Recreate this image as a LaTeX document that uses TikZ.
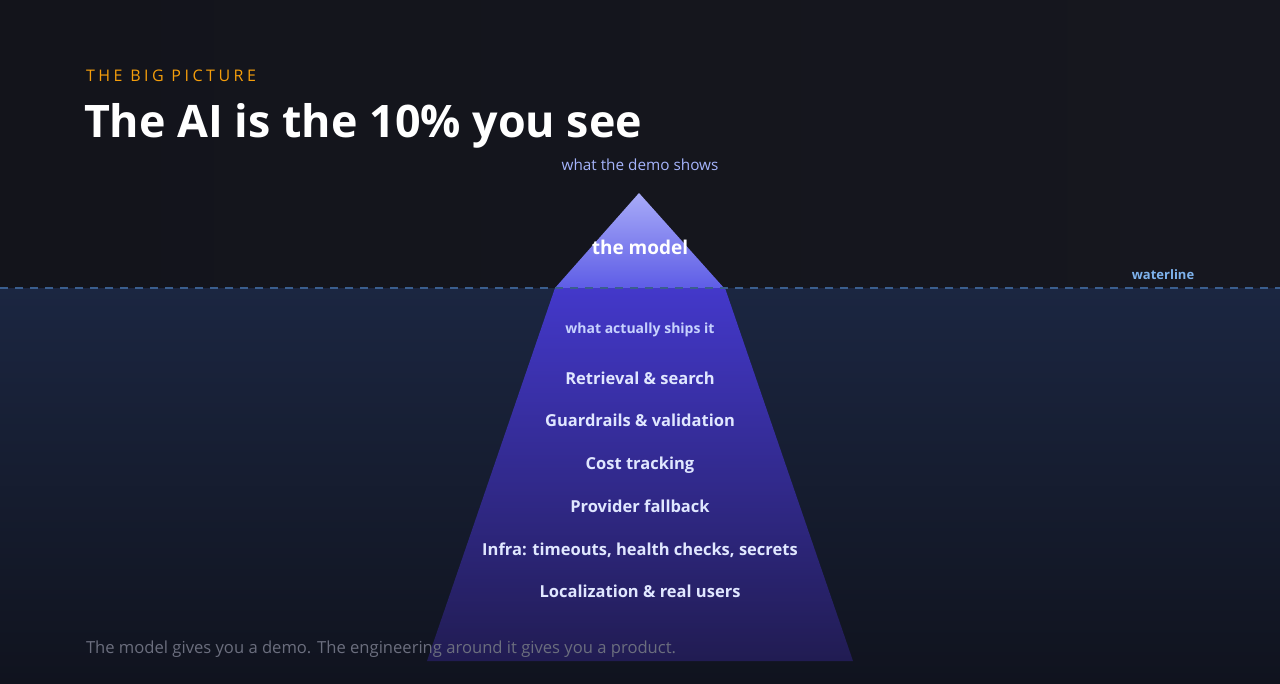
\documentclass[tikz,border=0pt]{standalone}
\usepackage{fontspec}
\setmainfont{Open Sans}
\newfontfamily\spaced[LetterSpace=22]{Open Sans}
\begin{document}
\begin{tikzpicture}[x=1pt,y=-1pt,
  lbl/.style={inner sep=0pt, outer sep=0pt},
  item/.style={lbl, anchor=base, text=itemc, font=\fontsize{16.5}{20}\selectfont\bfseries}]
\definecolor{bgtop}{HTML}{13141B}
\definecolor{bgtopr}{HTML}{16171F}
\definecolor{seatop}{HTML}{1B2641}
\definecolor{seabot}{HTML}{10131E}
\definecolor{wline}{HTML}{3A5E8E}
\definecolor{tipc}{HTML}{A8ABF8}
\definecolor{tipb}{HTML}{5E5DE6}
\definecolor{traptop}{HTML}{4338CA}
\definecolor{trapbot}{HTML}{211C52}
\definecolor{orangec}{HTML}{F59E0B}
\definecolor{democ}{HTML}{A5B4FC}
\definecolor{shipc}{HTML}{C7D2FE}
\definecolor{itemc}{HTML}{E0E7FF}
\definecolor{waterc}{HTML}{7EB2EC}
\definecolor{footc}{HTML}{6B6E7E}
\useasboundingbox (0,0) rectangle (1280,683);
% backgrounds
\shade[left color=bgtop, right color=bgtopr] (0,0) rectangle (1280,288);
\shade[top color=seatop, bottom color=seabot] (0,288) rectangle (1280,683);
% iceberg
\shade[top color=tipc, bottom color=tipb] (639,193) -- (724,288) -- (555,288) -- cycle;
\shade[top color=traptop, bottom color=trapbot] (555,288) -- (725,288) -- (853,661) -- (427,661) -- cycle;
% waterline
\coordinate (wl) at (0,288);
\coordinate (wr) at (1280,288);
\draw[wline, line width=2pt, dash pattern=on 8pt off 7pt] (wl) -- (wr);
% texts
\node[lbl, anchor=base west, text=orangec, font=\fontsize{16}{19}\selectfont\spaced] (kick) at (86,81) {THE BIG PICTURE};
\node[lbl, anchor=base west, text=white, font=\fontsize{44.8}{52}\selectfont\bfseries] (title) at (84,137) {The AI is the 10\% you see};
\node[lbl, anchor=base, text=democ, font=\fontsize{15.3}{18}\selectfont] (demo) at (640,170) {what the demo shows};
\node[lbl, anchor=base, text=white, font=\fontsize{19}{22}\selectfont\bfseries] (model) at (640,254) {the model};
\node[lbl, anchor=base, text=waterc, font=\fontsize{13}{16}\selectfont\bfseries] (water) at (1163,279) {waterline};
\node[lbl, anchor=base, text=shipc, font=\fontsize{14}{17}\selectfont\bfseries] (ship) at (640,333) {what actually ships it};
\node[item] (i1) at (640,384) {Retrieval \& search};
\node[item] (i2) at (640,426) {Guardrails \& validation};
\node[item] (i3) at (640,469) {Cost tracking};
\node[item] (i4) at (640,512) {Provider fallback};
\node[item] (i5) at (640,555) {Infra: timeouts, health checks, secrets};
\node[item] (i6) at (640,597) {Localization \& real users};
\node[lbl, anchor=base west, text=footc, font=\fontsize{16.6}{19}\selectfont] (foot) at (86,653) {The model gives you a demo. The engineering around it gives you a product.};
\end{tikzpicture}
\end{document}
